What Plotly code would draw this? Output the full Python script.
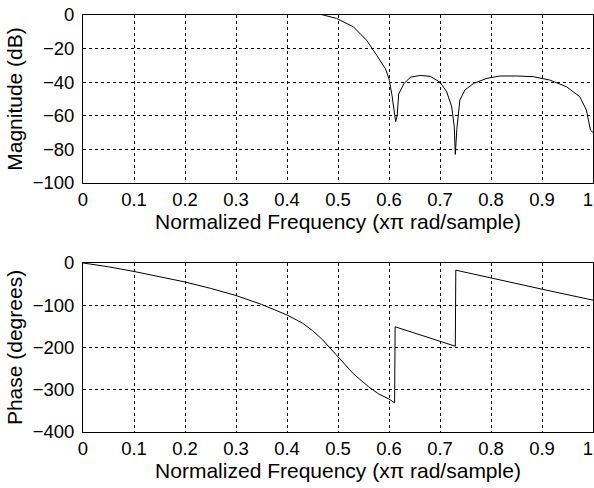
import plotly.graph_objects as go

# Magnitude response (dB) vs normalized frequency
freq_mag = [0.0, 0.1, 0.2, 0.3, 0.4, 0.45, 0.471, 0.497, 0.53, 0.556, 0.576, 0.593, 0.6,
            0.606, 0.613, 0.616, 0.619, 0.629, 0.642, 0.661, 0.681, 0.7, 0.713, 0.723,
            0.728, 0.730, 0.733, 0.739, 0.749, 0.766, 0.792, 0.818, 0.85, 0.883, 0.915,
            0.948, 0.974, 0.987, 0.995, 1.0]
mag_db = [2.0, 2.0, 2.0, 2.0, 2.0, 1.5, 0.0, -2.0, -7.0, -15.0, -24.0, -32.0, -38.0,
          -48.0, -63.5, -60.0, -47.0, -41.0, -37.0, -36.0, -36.5, -40.0, -45.6, -54.6,
          -66.5, -83.0, -68.0, -50.6, -44.6, -40.7, -37.7, -36.3, -36.3, -36.7, -38.7,
          -42.7, -48.6, -56.5, -68.5, -70.0]

# Phase response (degrees)
freq_phase = [0.0, 0.05, 0.1, 0.15, 0.2, 0.25, 0.3, 0.35, 0.4, 0.43, 0.45, 0.47, 0.5,
              0.53, 0.56, 0.58, 0.6, 0.611, 0.612, 0.73, 0.731, 0.8, 0.9, 1.0]
phase_deg = [0, -9, -20, -32, -45, -60, -77, -98, -123, -142, -160, -182, -222,
             -262, -293, -310, -322, -331, -151, -197, -17, -36, -62, -88]

# x ticks; last label padded so it stays inside the window like the original
x_ticks = [0, 0.1, 0.2, 0.3, 0.4, 0.5, 0.6, 0.7, 0.8, 0.9, 1.0]
x_ticklabels = ["0", "0.1", "0.2", "0.3", "0.4", "0.5", "0.6", "0.7", "0.8", "0.9",
                "1\u00a0\u00a0"]

xlabel = "Normalized Frequency (x\u03c0 rad/sample)"
font_family = "Liberation Sans, Arial, Helvetica, sans-serif"

fig = go.Figure()
fig.add_trace(go.Scatter(x=freq_mag, y=mag_db, mode="lines",
                         line=dict(color="black", width=1), xaxis="x", yaxis="y"))
fig.add_trace(go.Scatter(x=freq_phase, y=phase_deg, mode="lines",
                         line=dict(color="black", width=1), xaxis="x2", yaxis="y2"))

ax_common = dict(showline=True, linecolor="black", linewidth=1, mirror=True,
                 showgrid=True, gridcolor="black", gridwidth=1, griddash="3px,3px",
                 zeroline=False, ticks="", tickfont=dict(size=18.5, color="black"),
                 automargin=False, ticklabeloverflow="allow")
x_common = dict(range=[0, 1], tickvals=x_ticks, ticktext=x_ticklabels,
                ticklabelstandoff=0, **ax_common)

fig.update_layout(
    width=594, height=488,
    margin=dict(l=83, r=1, t=15, b=56),
    paper_bgcolor="white", plot_bgcolor="white",
    font=dict(family=font_family, size=17.4, color="black"),
    showlegend=False,
    xaxis=dict(domain=[0, 1], anchor="y", title=dict(text=xlabel, standoff=2), **x_common),
    yaxis=dict(domain=[0.5971, 1], anchor="x", range=[-100, 0], dtick=20, ticklabelstandoff=4,
               title=dict(text="Magnitude (dB)", standoff=4), **ax_common),
    xaxis2=dict(domain=[0, 1], anchor="y2", title=dict(text=xlabel, standoff=2), **x_common),
    yaxis2=dict(domain=[0, 0.4053], anchor="x2", range=[-400, 0], dtick=100, ticklabelstandoff=4,
                title=dict(text="Phase (degrees)", standoff=4), **ax_common),
)

# drop the default page margin so the figure fills the window exactly
fig.write_html("out.html", config={"displayModeBar": False},
               post_script="document.body.style.margin='0';document.body.style.overflow='hidden';")
